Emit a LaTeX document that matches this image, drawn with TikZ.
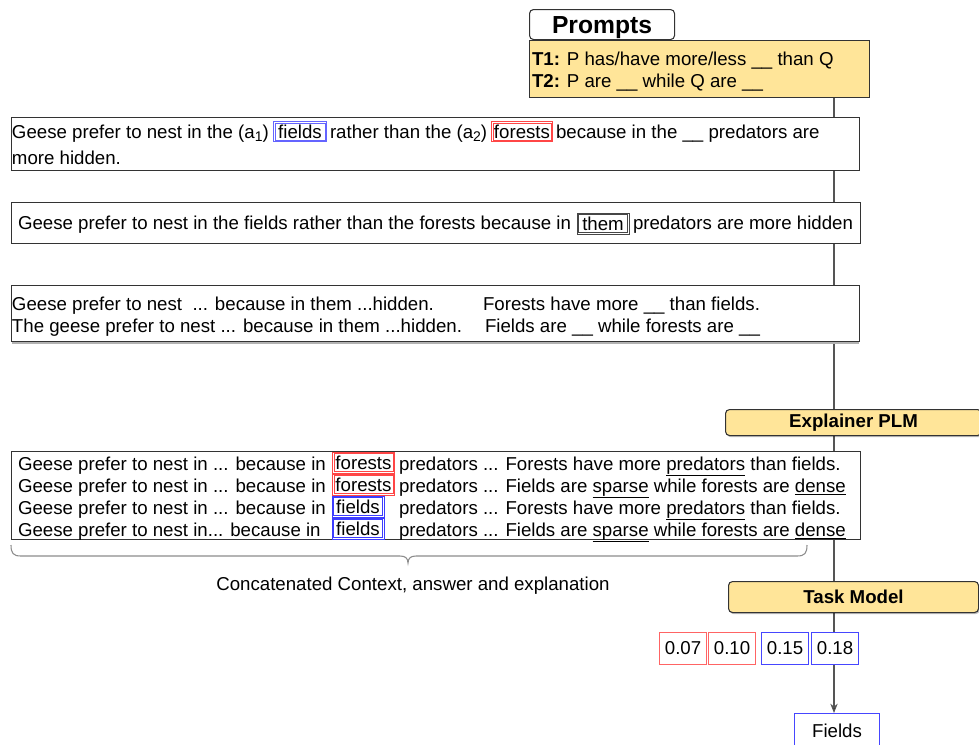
\documentclass[tikz,border=0pt]{standalone}
\usepackage{fontspec}
\setmainfont{Liberation Sans}
\usetikzlibrary{backgrounds,arrows.meta,shadows}

% one drawing unit = one pixel of the layout grid
\newcommand{\pxu}{0.75pt}
% subscript index in the candidate markers
\newcommand{\idx}[1]{\raisebox{-0.35ex}{\fontsize{10.5}{12}\selectfont #1}}

\definecolor{plmyellow}{RGB}{255,229,153}
\definecolor{edgegray}{RGB}{51,51,51}
\definecolor{spinegray}{RGB}{85,85,85}
\definecolor{wordred}{RGB}{255,70,70}
\definecolor{wordblue}{RGB}{60,60,255}
\definecolor{lightblue}{RGB}{100,100,255}
\definecolor{themgray}{RGB}{70,70,70}
\definecolor{scorered}{RGB}{255,100,100}
\definecolor{scoreblue}{RGB}{70,70,255}
\definecolor{bracegray}{RGB}{140,140,140}

\tikzset{
  every node/.style={font=\fontsize{14}{16.8}\selectfont},
  seg/.style={anchor=base west, inner sep=0pt, outer sep=0pt},
  textbox/.style={draw=edgegray, fill=white, line width=0.8pt, rectangle,
    inner sep=0pt, anchor=north west},
  yellowbox/.style={draw=edgegray, fill=plmyellow, line width=0.8pt,
    inner sep=0pt, anchor=north west},
  plmbox/.style={yellowbox, rounded corners=3pt,
    font=\fontsize{14}{16.8}\selectfont\bfseries,
    drop shadow={shadow xshift=0.8pt, shadow yshift=-1.2pt, opacity=0.25, fill=black}},
  wordframe/.style={draw=#1, line width=0.7pt, inner sep=0pt, anchor=center},
  score/.style={draw=#1, fill=white, line width=0.8pt, inner sep=0pt, anchor=north west,
    minimum width=47*\pxu, minimum height=32*\pxu},
  spine/.style={draw=spinegray, line width=0.9pt},
}

% a highlighted word with a double frame:
% #1 name, #2 colour, #3 centre, #4 width, #5 height, #6 word
\newcommand{\wordbox}[6]{%
  \node[wordframe=#2, minimum width=#4*\pxu, minimum height=#5*\pxu] (#1) at #3 {#6};
  \draw[#2, line width=0.6pt]
    ([xshift=1.5pt, yshift=-1.5pt]#1.north west) rectangle
    ([xshift=-1.5pt, yshift=1.5pt]#1.south east);
}

\begin{document}
\begin{tikzpicture}[x=0.75pt, y=-0.75pt]
\useasboundingbox (0,0) rectangle (979,744);
\clip (0,0) rectangle (979,744);

\coordinate (spine) at (834,0);

% ---------- prompt templates ----------
\node[yellowbox, minimum width=340*\pxu, minimum height=57*\pxu] (tpl) at (529,40) {};
\node[draw=edgegray, fill=white, line width=0.8pt, rounded corners=3pt, anchor=north west,
      inner sep=0pt, minimum width=145*\pxu, minimum height=30*\pxu, text depth=0pt,
      font=\fontsize{18.5}{20}\selectfont\bfseries] (prompts) at (529,9) {Prompts};
\node[seg] (t1) at (532,65) {\textbf{T1:} P has/have more/less \_\_ than Q};
\node[seg] (t2) at (532,87) {\textbf{T2:} P are \_\_ while Q are \_\_};

% ---------- context with candidate answers ----------
\node[textbox, minimum width=848*\pxu, minimum height=53*\pxu] (b1) at (11,117) {};
\node[seg] (b1a) at (12,138) {Geese prefer to nest in the (a\idx{1})};
\wordbox{b1f}{lightblue}{(300,131.5)}{53}{20}{fields}
\node[seg] (b1b) at (330,138) {rather than the (a\idx{2})};
\wordbox{b1g}{wordred}{(522,131.5)}{61}{20}{forests}
\node[seg] (b1c) at (556,138) {because in the \_\_ predators are};
\node[seg] (b1d) at (12,164) {more hidden.};

% ---------- resolved sentence ----------
\node[textbox, minimum width=849*\pxu, minimum height=41*\pxu] (b2) at (11,202) {};
\node[seg] (b2a) at (18,229) {Geese prefer to nest in the fields rather than the forests because in};
\wordbox{b2t}{themgray}{(603,223.5)}{52}{21}{them}
\node[seg] (b2b) at (633,229) {predators are more hidden};

% ---------- shortened context with filled prompts ----------
\draw[gray!60, line width=1.5pt] (12,343) -- (859,343);
\node[textbox, minimum width=848*\pxu, minimum height=56*\pxu] (b3) at (11,285) {};
\node[seg] (b3a) at (12,310) {Geese prefer to nest\ \ ... because in them ...hidden.};
\node[seg] (b3b) at (483,310) {Forests have more \_\_ than fields.};
\node[seg] (b3c) at (12,332) {The geese prefer to nest ... because in them ...hidden.};
\node[seg] (b3d) at (485,332) {Fields are \_\_ while forests are \_\_};

% ---------- explainer ----------
\node[plmbox, minimum width=256*\pxu, minimum height=26*\pxu] (expl) at (725,409) {Explainer PLM};

% ---------- concatenated inputs ----------
\node[textbox, minimum width=849*\pxu, minimum height=88*\pxu] (b4) at (11,451) {};
\node[seg] (l1a) at (18,470) {Geese prefer to nest in ... because in};
\wordbox{l1w}{wordred}{(363.5,462.5)}{62}{21}{forests}
\node[seg] (l1b) at (399,470) {predators ... Forests have more \underline{predators} than fields.};
\node[seg] (l2a) at (18,492) {Geese prefer to nest in ... because in};
\wordbox{l2w}{wordred}{(363.5,484.5)}{62}{21}{forests}
\node[seg] (l2b) at (399,492) {predators ... Fields are \underline{sparse} while forests are \underline{dense}};
\node[seg] (l3a) at (18,514) {Geese prefer to nest in ... because in};
\wordbox{l3w}{wordblue}{(358,506.5)}{52}{21}{fields}
\node[seg] (l3b) at (399,514) {predators ... Forests have more \underline{predators} than fields.};
\node[seg] (l4a) at (18,536) {Geese prefer to nest in... because in};
\wordbox{l4w}{wordblue}{(358,528.5)}{52}{21}{fields}
\node[seg] (l4b) at (399,536) {predators ... Fields are \underline{sparse} while forests are \underline{dense}};

% curly brace under the concatenated inputs
\draw[bracegray, line width=0.8pt]
  (11,545) .. controls (11,553) and (13,556) .. (21,556) -- (400,556)
  .. controls (405,556) and (408,558) .. (408,563)
  .. controls (408,558) and (411,556) .. (416,556) -- (797,556)
  .. controls (805,556) and (807,553) .. (807,545);
\node[anchor=base, inner sep=0pt] (lbl) at (413,590) {Concatenated Context, answer and explanation};

% ---------- task model and scores ----------
\node[plmbox, minimum width=250*\pxu, minimum height=31*\pxu] (task) at (728,581) {Task Model};

\node[score=scorered] (s1) at (659,632) {0.07};
\node[score=scorered] (s2) at (708,632) {0.10};
\node[score=scoreblue] (s3) at (761,632) {0.15};
\node[score=scoreblue] (s4) at (811,632) {0.18};

\node[draw=scoreblue, fill=white, line width=0.8pt, inner sep=0pt, anchor=north west,
      minimum width=85*\pxu, minimum height=34*\pxu] (fields) at (794,713) {Fields};

% ---------- flow line ----------
\begin{scope}[on background layer]
  \draw[spine] (tpl.south -| spine) -- (expl.north -| spine);
  \draw[spine] (expl.south -| spine) -- (task.north -| spine);
  \draw[spine] (task.south -| spine) -- (s4.north -| spine);
\end{scope}
\draw[spine, -{Stealth[length=7pt, width=5.5pt, fill=black]}] (s4.south -| spine) -- (fields.north -| spine);

\end{tikzpicture}
\end{document}
